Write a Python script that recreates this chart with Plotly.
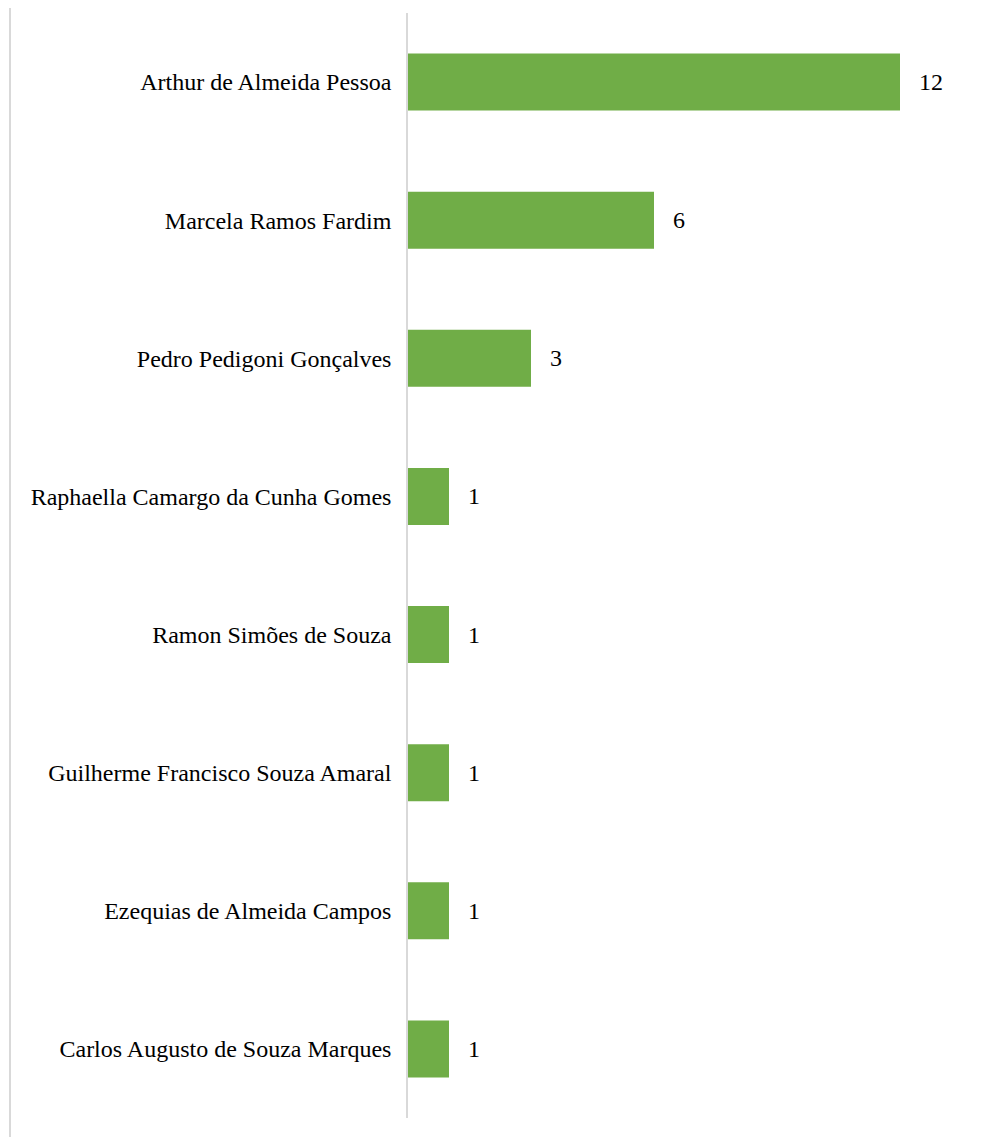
import plotly.graph_objects as go

names = [
    "Arthur de Almeida Pessoa",
    "Marcela Ramos Fardim",
    "Pedro Pedigoni Gonçalves",
    "Raphaella Camargo da Cunha Gomes",
    "Ramon Simões de Souza",
    "Guilherme Francisco Souza Amaral",
    "Ezequias de Almeida Campos",
    "Carlos Augusto de Souza Marques",
]
counts = [12, 6, 3, 1, 1, 1, 1, 1]

OFF = 8  # page offset of the figure in the browser
W, H = 997 - OFF, 1137 - OFF
ml, mt = 408 - OFF, 13 - OFF
ph = 1105
pw = 553
mr = W - ml - pw
mb = H - mt - ph
xmax = pw / 41.0

font_family = "Liberation Serif, Times New Roman, serif"

fig = go.Figure()
fig.add_trace(go.Bar(
    y=names,
    x=counts,
    orientation="h",
    marker=dict(color="#70AD47", line=dict(width=0)),
    hoverinfo="skip",
))

for n, c in zip(names, counts):
    fig.add_annotation(
        x=c, y=n, text=str(c), showarrow=False,
        xanchor="left", yanchor="middle", xshift=17,
        font=dict(family=font_family, size=24, color="#000000"),
    )

# left border line
fig.add_shape(
    type="line", xref="paper", yref="paper",
    x0=(10 - OFF - ml) / pw, x1=(10 - OFF - ml) / pw,
    y0=-mb / ph, y1=1 + mt / ph,
    line=dict(color="#d9d9d9", width=2),
)

fig.update_layout(
    width=W, height=H,
    margin=dict(l=ml, r=mr, t=mt, b=mb, pad=0),
    plot_bgcolor="white", paper_bgcolor="white",
    bargap=0.587,
    showlegend=False,
    font=dict(family=font_family, size=24, color="#000000"),
    xaxis=dict(range=[0, xmax], visible=False, showgrid=False, zeroline=False),
    yaxis=dict(
        autorange="reversed",
        showline=True, linecolor="#d9d9d9", linewidth=1.5,
        showgrid=False, zeroline=False,
        ticks="", ticklabelstandoff=10,
        tickfont=dict(family=font_family, size=24, color="#000000"),
    ),
)

fig.write_html("out.html")
